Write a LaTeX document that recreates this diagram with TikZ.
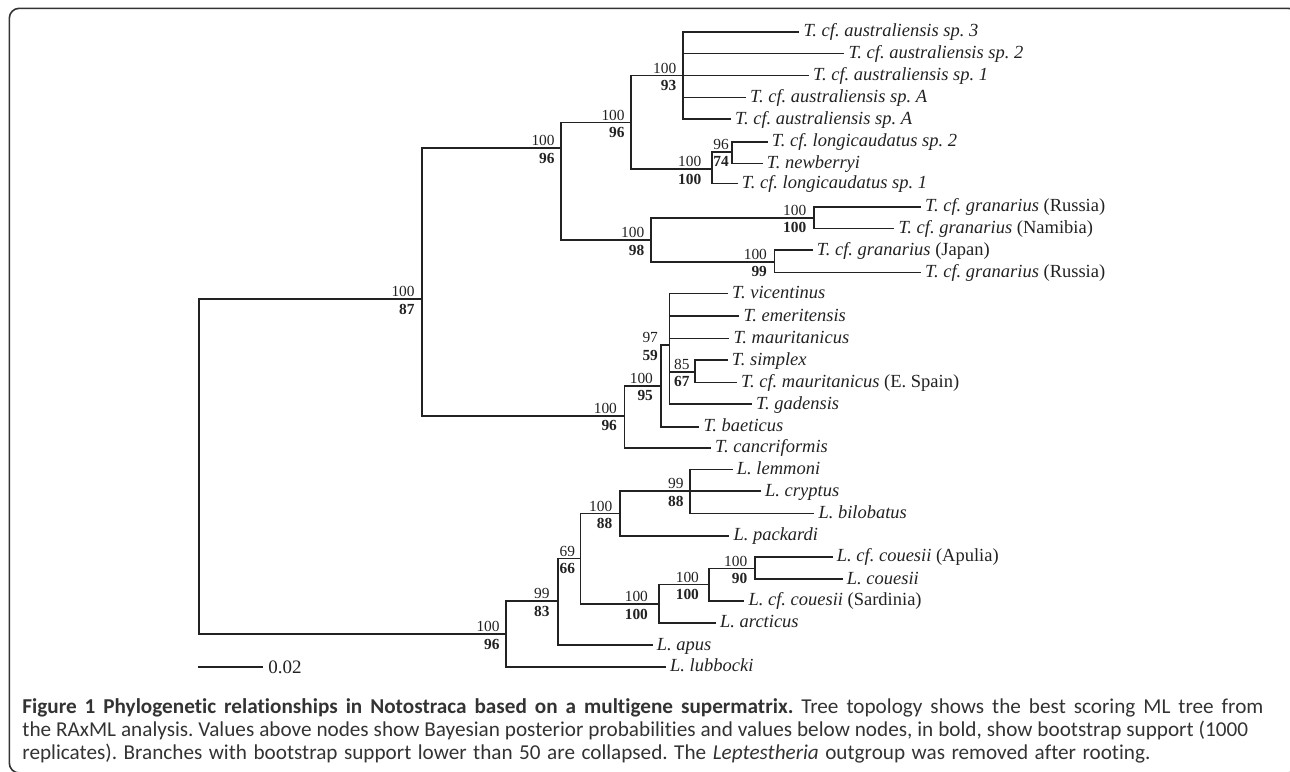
\documentclass[tikz,border=0pt]{standalone}
\usepackage{fontspec}
\setmainfont{Liberation Serif}
\newfontfamily\capfont[Ligatures=NoCommon]{Carlito}
\frenchspacing
\definecolor{ink}{HTML}{222222}
\definecolor{capink}{HTML}{333333}
\tikzset{
  br/.style={line width=0.8pt, draw=ink, line cap=rect},
  leaf/.style={anchor=base west, inner sep=0pt, xshift=2.4pt, yshift=-2.5pt, text=ink,
    font=\fontsize{9.25}{10}\selectfont\itshape},
  pp/.style={anchor=base east, inner sep=0pt, text=ink, font=\fontsize{7.7}{8}\selectfont},
  bs/.style={anchor=base east, inner sep=0pt, text=ink, font=\fontsize{7.7}{8}\selectfont\bfseries},
  caption/.style={anchor=base west, inner sep=0pt, text=capink, font=\fontsize{10.6}{12}\selectfont\capfont\frenchspacing},
  frame/.style={line width=0.8pt, draw=black!80, rounded corners=5pt},
}
\newcommand\bsup[4][6]{%
  \node[pp] (#2-pp) at ([xshift=-#1*0.5pt, yshift=1.1pt]#2) {#3};
  \node[bs] (#2-bs) at ([xshift=-#1*0.5pt, yshift=-7.6pt]#2) {#4};
}
\begin{document}
\begin{tikzpicture}[x=0.5pt, y=-0.5pt]
\useasboundingbox (0,0) rectangle (1290,771);
\draw[frame] (9.3,8.3) rectangle (1298,773);

% internal nodes
\coordinate (root) at (198.7,466);
\coordinate (F) at (421.7,299);
\coordinate (D) at (561,148);
\coordinate (B) at (631,122.3);
\coordinate (A) at (682.7,75.3);
\coordinate (C) at (711.7,169);
\coordinate (S) at (731.7,151.7);
\coordinate (E) at (650.7,240);
\coordinate (T) at (814,217.7);
\coordinate (U) at (774.3,261.7);
\coordinate (O) at (624.3,415.7);
\coordinate (P) at (661,385.7);
\coordinate (Q) at (669.3,345);
\coordinate (R) at (695,371.7);
\coordinate (G) at (506,634);
\coordinate (H) at (557.7,601);
\coordinate (I) at (580.5,558.3);
\coordinate (M) at (620,513.3);
\coordinate (N) at (690,491);
\coordinate (J) at (658.7,604);
\coordinate (K) at (709,584.3);
\coordinate (L) at (755,568.3);

% leaf ends
\coordinate (a1) at (798.3,31.7);
\coordinate (a2) at (843.3,53.3);
\coordinate (a3) at (808,75.3);
\coordinate (a4) at (745,97.3);
\coordinate (a5) at (730,119);
\coordinate (s1) at (766.7,141.7);
\coordinate (s2) at (761.7,163.3);
\coordinate (c2) at (736.7,183.3);
\coordinate (t1) at (920,206.7);
\coordinate (t2) at (893.3,228.3);
\coordinate (u1) at (811.7,250);
\coordinate (u2) at (920,272.3);
\coordinate (q1) at (727,293.3);
\coordinate (q2) at (738.3,316);
\coordinate (q3) at (728.3,338.3);
\coordinate (r1) at (726.7,360);
\coordinate (r2) at (736,382.3);
\coordinate (q5) at (751,404);
\coordinate (p2) at (698.3,426.7);
\coordinate (o2) at (710,447.7);
\coordinate (n1) at (731.7,469.3);
\coordinate (n2) at (760,491);
\coordinate (n3) at (813.3,513.3);
\coordinate (m2) at (728.3,535.7);
\coordinate (l1) at (831.7,556.7);
\coordinate (l2) at (841.7,579);
\coordinate (k2) at (743.3,600.7);
\coordinate (j2) at (715,622.7);
\coordinate (h2) at (651.7,645);
\coordinate (g2) at (665,666.7);

% branches
\draw[br] (root) |- (F);  \draw[br] (root) |- (G);
\draw[br] (F) |- (D);  \draw[br] (F) |- (O);
\draw[br] (D) |- (B);  \draw[br] (D) |- (E);
\draw[br] (B) |- (A);  \draw[br] (B) |- (C);
\foreach \c in {a1,a2,a3,a4,a5} \draw[br] (A) |- (\c);
\draw[br] (C) |- (S);  \draw[br] (C) |- (c2);
\draw[br] (S) |- (s1); \draw[br] (S) |- (s2);
\draw[br] (E) |- (T);  \draw[br] (E) |- (U);
\draw[br] (T) |- (t1); \draw[br] (T) |- (t2);
\draw[br] (U) |- (u1); \draw[br] (U) |- (u2);
\draw[br] (O) |- (P);  \draw[br] (O) |- (o2);
\draw[br] (P) |- (Q);  \draw[br] (P) |- (p2);
\foreach \c in {q1,q2,q3,R,q5} \draw[br] (Q) |- (\c);
\draw[br] (R) |- (r1); \draw[br] (R) |- (r2);
\draw[br] (G) |- (H);  \draw[br] (G) |- (g2);
\draw[br] (H) |- (I);  \draw[br] (H) |- (h2);
\draw[br] (I) |- (M);  \draw[br] (I) |- (J);
\draw[br] (M) |- (N);  \draw[br] (M) |- (m2);
\foreach \c in {n1,n2,n3} \draw[br] (N) |- (\c);
\draw[br] (J) |- (K);  \draw[br] (J) |- (j2);
\draw[br] (K) |- (L);  \draw[br] (K) |- (k2);
\draw[br] (L) |- (l1); \draw[br] (L) |- (l2);

% leaf labels
\node[leaf] (a1-t) at (a1) {T. cf. australiensis sp. 3};
\node[leaf] (a2-t) at (a2) {T. cf. australiensis sp. 2};
\node[leaf] (a3-t) at (a3) {T. cf. australiensis sp. 1};
\node[leaf] (a4-t) at (a4) {T. cf. australiensis sp. A};
\node[leaf] (a5-t) at (a5) {T. cf. australiensis sp. A};
\node[leaf] (s1-t) at (s1) {T. cf. longicaudatus sp. 2};
\node[leaf] (s2-t) at (s2) {T. newberryi};
\node[leaf] (c2-t) at (c2) {T. cf. longicaudatus sp. 1};
\node[leaf] (t1-t) at (t1) {T. cf. granarius \upshape(Russia)};
\node[leaf] (t2-t) at (t2) {T. cf. granarius \upshape(Namibia)};
\node[leaf] (u1-t) at (u1) {T. cf. granarius \upshape(Japan)};
\node[leaf] (u2-t) at (u2) {T. cf. granarius \upshape(Russia)};
\node[leaf] (q1-t) at (q1) {T. vicentinus};
\node[leaf] (q2-t) at (q2) {T. emeritensis};
\node[leaf] (q3-t) at (q3) {T. mauritanicus};
\node[leaf] (r1-t) at (r1) {T. simplex};
\node[leaf] (r2-t) at (r2) {T. cf. mauritanicus \upshape(E. Spain)};
\node[leaf] (q5-t) at (q5) {T. gadensis};
\node[leaf] (p2-t) at (p2) {T. baeticus};
\node[leaf] (o2-t) at (o2) {T. cancriformis};
\node[leaf] (n1-t) at (n1) {L. lemmoni};
\node[leaf] (n2-t) at (n2) {L. cryptus};
\node[leaf] (n3-t) at (n3) {L. bilobatus};
\node[leaf] (m2-t) at (m2) {L. packardi};
\node[leaf] (l1-t) at (l1) {L. cf. couesii \upshape(Apulia)};
\node[leaf] (l2-t) at (l2) {L. couesii};
\node[leaf] (k2-t) at (k2) {L. cf. couesii \upshape(Sardinia)};
\node[leaf] (j2-t) at (j2) {L. arcticus};
\node[leaf] (h2-t) at (h2) {L. apus};
\node[leaf] (g2-t) at (g2) {L. lubbocki};

% support values
\bsup[6.7]{F}{100}{87}
\bsup{D}{100}{96}
\bsup{B}{100}{96}
\bsup{A}{100}{93}
\bsup[10]{C}{100}{100}
\bsup[2.5]{S}{96}{74}
\bsup{E}{100}{98}
\bsup[7.3]{T}{100}{100}
\bsup[7]{U}{100}{99}
\bsup[7]{O}{100}{96}
\bsup[7.7]{P}{100}{95}
\bsup[11]{Q}{97}{59}
\bsup[5]{R}{85}{67}
\bsup{G}{100}{96}
\bsup[7.7]{H}{99}{83}
\bsup[5]{I}{69}{66}
\bsup[7.3]{M}{100}{88}
\bsup{N}{99}{88}
\bsup[10.4]{J}{100}{100}
\bsup[9.7]{K}{100}{100}
\bsup[7.3]{L}{100}{90}

% scale bar
\coordinate (sb1) at (198.7,666.7);
\coordinate (sb2) at (261.7,666.7);
\draw[br] (sb1) -- (sb2);
\node[anchor=base west, inner sep=0pt, text=ink, font=\fontsize{9.5}{10}\selectfont] (sbt) at ([xshift=3.1pt, yshift=-3.3pt]sb2) {0.02};

% caption
\node[caption] (cap1) at (22,713) {\makebox[620.5pt][s]{\textbf{Figure 1 Phylogenetic relationships in Notostraca based on a multigene supermatrix.} Tree topology shows the best scoring ML tree from}};
\node[caption] (cap2) at (22,736) {\makebox[613pt][s]{the RAxML analysis. Values above nodes show Bayesian posterior probabilities and values below nodes, in bold, show bootstrap support (1000}};
\node[caption] (cap3) at (22,759) {\makebox[564pt][s]{replicates). Branches with bootstrap support lower than 50 are collapsed. The \textit{Leptestheria} outgroup was removed after rooting.}};
\end{tikzpicture}
\end{document}
